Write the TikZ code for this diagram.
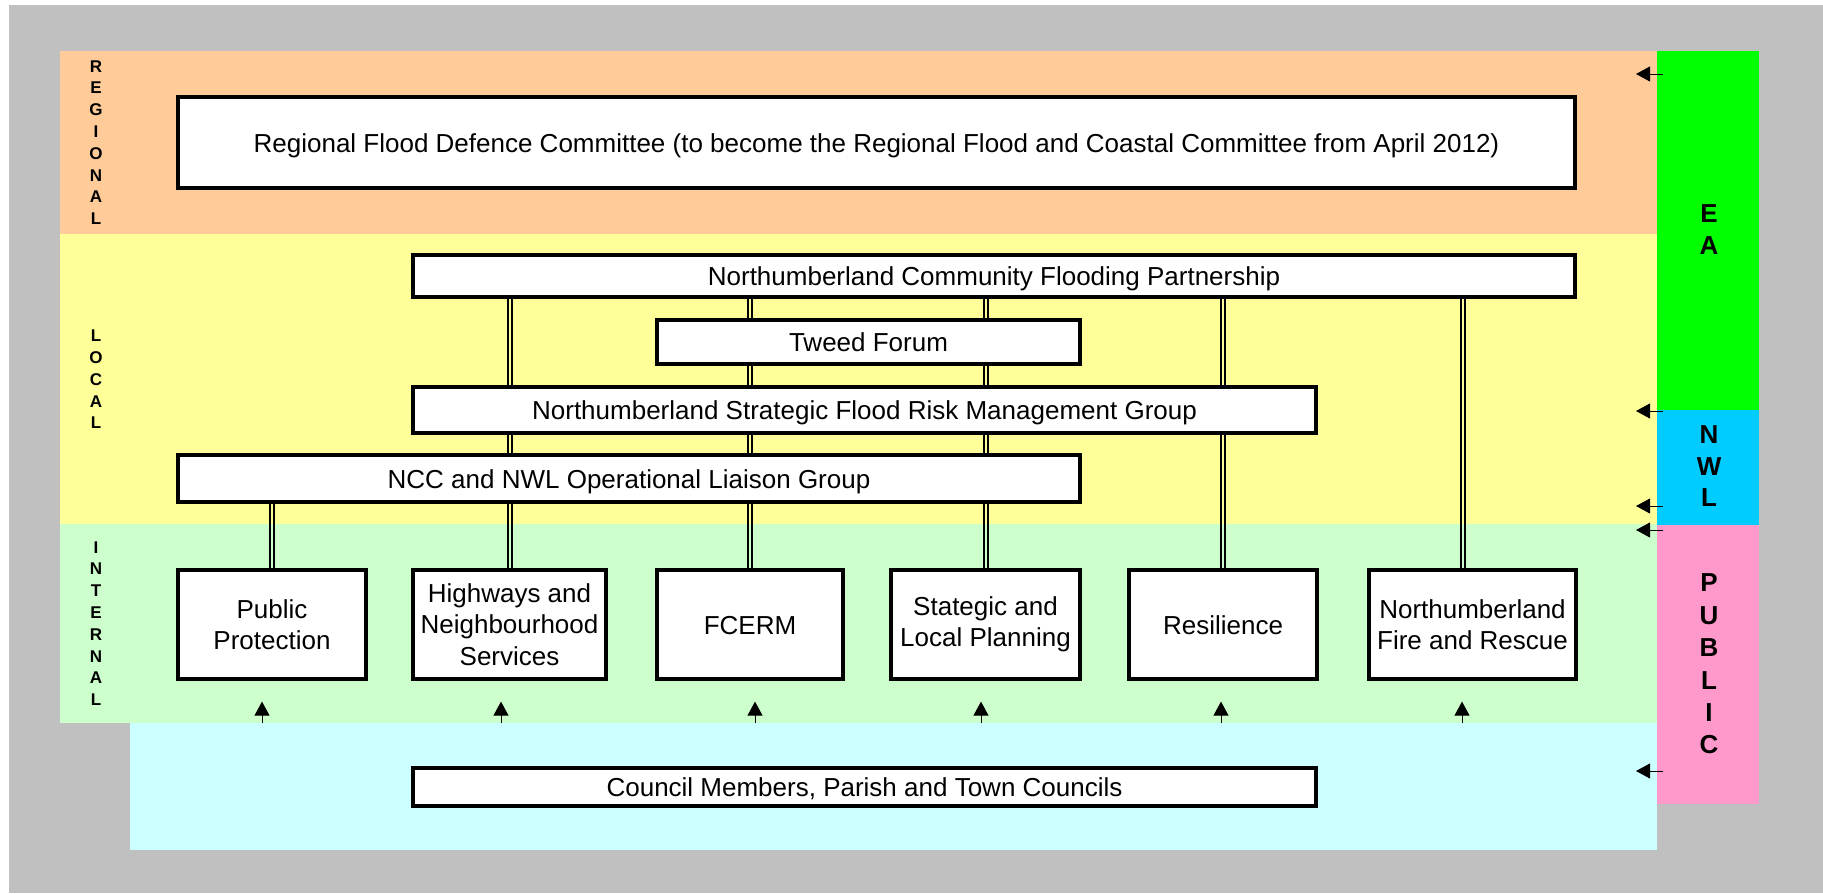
\documentclass[tikz,border=0pt]{standalone}
\usepackage{fontspec}
\setmainfont{Liberation Sans}
\usetikzlibrary{arrows.meta}

\definecolor{regionalbg}{HTML}{FFCC99}
\definecolor{localbg}{HTML}{FFFF99}
\definecolor{internalbg}{HTML}{CCFFCC}
\definecolor{publicbg}{HTML}{CCFFFF}
\definecolor{eabar}{HTML}{00FF00}
\definecolor{nwlbar}{HTML}{00CCFF}
\definecolor{publicbar}{HTML}{FF99CC}
\definecolor{framebg}{HTML}{C0C0C0}

\pgfdeclarelayer{bands}
\pgfdeclarelayer{links}
\pgfsetlayers{bands,links,main}

\begin{document}
\begin{tikzpicture}[x=0.5pt,y=-0.5pt,>={Triangle[length=7pt,width=7.5pt]},line width=0.75pt]

    \tikzstyle{every node}=[font=\fontsize{13}{15.75}\selectfont]
    \tikzstyle{unit}=[draw=black,fill=white,line width=1.6pt,inner sep=0pt,align=center]
    \tikzstyle{bar}=[unit,text height=9.6pt,text depth=0pt]
    \tikzstyle{link}=[line width=1pt]
    \tikzstyle{tier}=[inner sep=0pt,align=center,font=\fontsize{8.5}{10.9}\selectfont\bfseries]
    \tikzstyle{body}=[inner sep=0pt,align=center,font=\fontsize{13}{15.75}\selectfont\bfseries]

    \useasboundingbox (0,0) rectangle (1823,893);

    % bands
    \begin{pgfonlayer}{bands}
    \fill[framebg]    (9,5)      rectangle (1823,893);
    \fill[regionalbg] (60,51)    rectangle (1657,234);
    \fill[localbg]    (60,234)   rectangle (1657,524);
    \fill[internalbg] (60,524)   rectangle (1657,723);
    \fill[publicbg]   (130,723)  rectangle (1657,850);
    \fill[eabar]      (1657,51)  rectangle (1759,410);
    \fill[nwlbar]     (1657,410) rectangle (1759,525);
    \fill[publicbar]  (1657,525) rectangle (1759,804);
    \end{pgfonlayer}
    \coordinate (cmtop) at (0,723);

    \node[tier] (regional) at (96,142.5) {R\\E\\G\\I\\O\\N\\A\\L};
    \node[tier] (local)    at (96,379.5) {L\\O\\C\\A\\L};
    \node[tier] (internal) at (96,623.5) {I\\N\\T\\E\\R\\N\\A\\L};

    \node[body] (ea)  at (1709,229.5) {E\\A};
    \node[body] (nwl) at (1709,466.5) {N\\W\\L};
    \node[body,font=\fontsize{13}{16.2}\selectfont\bfseries] (public) at (1709,664) {P\\U\\B\\L\\I\\C};

    % boxes
    \node[bar,minimum width=698.5pt,minimum height=45.5pt] (rfdc)  at (876.5,142.5) {Regional Flood Defence Committee (to become the Regional Flood and Coastal Committee from April 2012)};
    \node[bar,minimum width=581pt,minimum height=21pt]     (ncfp)  at (994,276)     {Northumberland Community Flooding Partnership};
    \node[bar,minimum width=211.5pt,minimum height=22pt]   (tweed) at (868.5,342)   {Tweed Forum};
    \node[bar,minimum width=451.5pt,minimum height=23pt]   (nsfrm) at (864.5,410)   {Northumberland Strategic Flood Risk Management Group};
    \node[bar,minimum width=451pt,minimum height=23.5pt]   (ncc)   at (629,478.5)   {NCC and NWL Operational Liaison Group};

    \node[unit,minimum width=94pt,minimum height=54.5pt]    (pp)    at (272,624.5)   {Public\\Protection};
    \node[unit,minimum width=96.5pt,minimum height=54.5pt]  (hns)   at (509.5,624.5) {Highways and\\Neighbourhood\\Services};
    \node[bar,minimum width=93pt,minimum height=54.5pt]     (fcerm) at (750,624.5)   {FCERM};
    \node[unit,minimum width=94.5pt,minimum height=54.5pt]  (slp)   at (985.5,624.5) {Stategic and\\Local Planning};
    \node[bar,minimum width=94pt,minimum height=54.5pt]     (res)   at (1223,624.5)  {Resilience};
    \node[unit,minimum width=103.5pt,minimum height=54.5pt] (nfr)   at (1472.5,624.5){Northumberland\\Fire and Rescue};

    \node[bar,minimum width=451.5pt,minimum height=19pt]   (cmp)   at (864.5,787)   {Council Members, Parish and Town Councils};

    % double links
    \begin{pgfonlayer}{links}
    \foreach \s in {-1pt,1pt}{
      \draw[link] ([xshift=\s]pp.north) -- ([xshift=\s]pp.north |- ncc.south);
      \foreach \n in {hns,fcerm,slp,res}
        \draw[link] ([xshift=\s]\n.north) -- ([xshift=\s]\n.north |- ncfp.south);
      \draw[link] ([xshift=\s-4.75pt]nfr.north) -- ([xshift=\s-4.75pt]nfr.north |- ncfp.south);
    }
    \end{pgfonlayer}

    % arrows
    \foreach \n/\d in {pp/-5pt,hns/-4.25pt,fcerm/2.5pt,slp/-2.25pt,res/-1pt,nfr/-5.25pt}
      \draw[->,shorten >=10.5pt] ([xshift=\d]\n.south |- cmtop) -- ([xshift=\d]\n.south);
    \foreach \y in {74,411,506,530,771}
      \draw[->] (1663,\y) -- ++(-27,0);

\end{tikzpicture}
\end{document}
